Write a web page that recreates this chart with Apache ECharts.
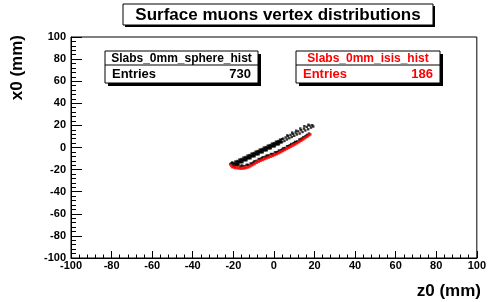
<!DOCTYPE html>
<html>
<head>
<meta charset="utf-8">
<script src="https://cdn.jsdelivr.net/npm/echarts@6/dist/echarts.min.js"></script>
<style>
  html, body { margin: 0; padding: 0; background: #fff; }
  #chart { width: 489px; height: 302px; }
</style>
</head>
<body>
<div id="chart"></div>
<script>
// z0 (mm), x0 (mm) pairs
const spherePoints = [
  // upper band, dense part
  [-20.0,-14.0],[-20.0,-16.8],[-19.5,-14.6],[-19.5,-16.9],[-19.0,-12.7],[-19.0,-15.1],[-18.5,-13.2],[-18.5,-15.1],
  [-18.0,-12.2],[-18.0,-15.0],[-17.5,-12.8],[-17.5,-15.1],[-17.0,-10.9],[-17.0,-13.3],[-16.5,-11.4],[-16.5,-13.3],
  [-16.0,-10.4],[-16.0,-13.2],[-15.5,-11.0],[-15.5,-13.3],[-15.0,-9.1],[-15.0,-11.5],[-14.5,-9.6],[-14.5,-11.5],
  [-14.0,-8.6],[-14.0,-11.4],[-13.5,-9.2],[-13.5,-11.5],[-13.0,-7.3],[-13.0,-9.7],[-12.5,-7.8],[-12.5,-9.7],
  [-12.0,-6.8],[-12.0,-9.6],[-11.5,-7.4],[-11.5,-9.7],[-11.0,-5.5],[-11.0,-7.9],[-10.5,-6.0],[-10.5,-7.9],
  [-10.0,-5.0],[-10.0,-7.8],[-9.5,-5.6],[-9.5,-7.9],[-9.0,-3.7],[-9.0,-6.1],[-8.5,-4.2],[-8.5,-6.1],
  [-8.0,-3.2],[-8.0,-6.0],[-7.5,-3.8],[-7.5,-6.1],[-7.0,-1.9],[-7.0,-4.3],[-6.5,-2.4],[-6.5,-4.3],
  [-6.0,-1.4],[-6.0,-4.2],[-5.5,-2.0],[-5.5,-4.3],[-5.0,-0.1],[-5.0,-2.5],[-4.5,-0.6],[-4.5,-2.5],
  [-4.0,0.4],[-4.0,-2.4],[-3.5,-0.2],[-3.5,-2.5],[-3.0,1.7],[-3.0,-0.7],[-2.5,1.2],[-2.5,-0.7],
  [-2.0,2.2],[-2.0,-0.6],[-1.5,1.6],[-1.5,-0.7],[-1.0,3.5],[-1.0,1.1],[-0.5,3.0],[-0.5,1.1],
  [0.0,4.0],[0.0,1.2],[0.5,3.4],[0.5,1.1],[1.0,5.3],[1.0,2.9],[1.5,4.8],[1.5,2.9],
  [2.0,5.8],[2.0,3.0],[2.5,5.2],[2.5,2.9],[3.0,7.1],[3.0,4.7],[3.5,6.6],[3.5,4.7],[4.0,7.6],[4.0,4.8],
  [-17.8,-13.3],[-16.8,-12.7],[-15.8,-11.5],[-14.8,-10.9],[-13.8,-9.8],[-12.8,-9.2],[-11.8,-7.9],[-10.8,-7.5],
  [-9.8,-6.1],[-8.8,-5.6],[-7.8,-4.3],[-6.8,-3.8],[-5.8,-2.5],[-4.8,-2.0],[-3.8,-0.7],[-2.8,-0.2],
  [-1.8,1.1],[-0.8,1.6],[0.2,2.9],[1.2,3.4],[2.2,4.7],[3.2,5.2],
  // upper band, sparse right part
  [4.6,8.0],[5.2,5.9],[5.8,9.1],[6.4,7.3],[7.0,10.2],[7.6,8.4],[8.2,11.4],[8.8,9.5],
  [9.4,12.3],[10.0,10.6],[10.7,13.5],[11.3,11.8],[12.0,14.6],[12.7,12.6],[13.4,15.7],[14.1,14.0],
  [14.8,17.1],[15.5,15.4],[16.2,18.6],[16.9,16.5],[17.6,19.8],[18.3,18.0],[18.9,20.2],[15.0,19.3],
  [17.0,20.6],[13.0,17.2],[19.4,19.0],[11.0,15.2],[6.6,11.0],[9.0,13.5],
  // lower band
  [-18.5,-16.2],[-17.5,-16.3],[-16.5,-17.4],[-15.5,-16.5],[-14.5,-16.9],[-13.5,-15.8],[-12.5,-16.0],[-11.5,-14.5],
  [-10.5,-14.2],[-9.5,-12.4],[-8.5,-12.0],[-7.5,-10.4],[-6.5,-10.3],[-5.5,-8.8],[-4.5,-8.7],[-3.5,-7.3],
  [-2.5,-7.2],[-1.5,-5.9],[-0.5,-5.8],[0.5,-4.4],[1.5,-4.3],[2.5,-2.7],[3.5,-2.4],[4.5,-0.8],
  [5.5,-0.4],[6.5,1.2],[7.5,1.6],[8.5,3.2],[9.5,3.6],[10.5,5.1],[11.5,5.6],[12.5,7.2],
  [13.5,7.8],[14.5,9.4],[15.5,10.1],[16.5,11.5],[17.3,12.6],
  [-16.0,-16.4],[-13.0,-15.6],[-10.0,-13.2],[-7.0,-10.9],[-4.0,-8.3],[-1.0,-6.2],[2.0,-3.9],[5.0,-1.1],
  [8.0,2.0],[11.0,4.8],[14.0,8.1],[-11.0,-14.8],[-6.0,-9.7],[-3.0,-7.6],[1.0,-4.6],[4.0,-1.9],
  [7.0,1.0],[10.0,4.1],[13.0,7.0],[16.0,10.7],
  // left tip
  [-21.0,-14.3],[-20.6,-13.6],[-21.4,-15.0],[-20.2,-15.2]
];

const isisPoints = [
  [-21.5,-15.3],[-21.0,-16.8],[-20.5,-17.9],[-20.0,-17.2],[-19.5,-18.5],[-19.0,-17.9],[-18.5,-18.8],[-18.0,-18.0],
  [-17.5,-19.0],[-17.0,-18.3],[-16.5,-19.3],[-16.0,-18.6],[-15.5,-19.2],[-15.0,-18.4],[-14.5,-19.0],[-14.0,-18.1],
  [-13.5,-18.5],[-13.0,-17.5],[-12.5,-18.0],[-12.0,-16.9],[-11.5,-17.0],[-11.0,-15.9],[-10.5,-16.0],[-10.0,-14.9],
  [-9.5,-15.0],[-9.0,-13.8],[-8.5,-13.9],[-8.0,-12.7],[-7.5,-13.0],[-7.0,-11.8],[-6.5,-12.1],[-6.0,-11.0],
  [-5.5,-11.4],[-5.0,-10.2],[-4.5,-10.6],[-4.0,-9.4],[-3.5,-9.8],[-3.0,-8.7],[-2.5,-9.1],[-2.0,-8.0],
  [-1.5,-8.4],[-1.0,-7.3],[-0.5,-7.7],[0.0,-6.6],[0.5,-6.9],[1.0,-5.8],[1.5,-6.1],[2.0,-4.9],
  [2.5,-5.2],[3.0,-4.0],[3.5,-4.3],[4.0,-3.0],[4.5,-3.3],[5.0,-2.0],[5.5,-2.3],[6.0,-1.0],
  [6.5,-1.3],[7.0,0.0],[7.5,-0.3],[8.0,1.0],[8.5,0.7],[9.0,2.0],[9.5,1.7],[10.0,3.0],
  [10.5,2.7],[11.0,4.0],[11.5,3.8],[12.0,5.0],[12.5,4.9],[13.0,6.1],[13.5,6.0],[14.0,7.2],
  [14.5,7.3],[15.0,8.4],[15.5,8.6],[16.0,9.6],[16.5,9.9],[17.0,10.8],[17.5,11.3],[18.0,11.9]
];

const sphereEntries = 730;
const isisEntries = 186;

const font = 'Liberation Sans, Arial, Helvetica, sans-serif';

const chart = echarts.init(document.getElementById('chart'));

function axisCommon(tickLen, minorLen, margin) {
  return {
    type: 'value',
    min: -100,
    max: 100,
    interval: 20,
    axisLine: { show: true, onZero: false, lineStyle: { color: '#000', width: 1 } },
    axisTick: { show: true, inside: true, length: tickLen, lineStyle: { color: '#000' } },
    minorTick: { show: true, splitNumber: 5, length: minorLen, lineStyle: { color: '#000' } },
    splitLine: { show: false },
    axisLabel: { color: '#000', fontFamily: font, fontWeight: 'bold', fontSize: 11, margin: margin }
  };
}

// stat box helper
function statBox(x, y, w, color, name, entries) {
  return [
    { type: 'rect', shape: { x: x + 3, y: y + 3, width: w, height: 32 }, style: { fill: '#000' } },
    { type: 'rect', shape: { x: x, y: y, width: w, height: 32 }, style: { fill: '#fff', stroke: '#000', lineWidth: 1 } },
    { type: 'line', shape: { x1: x, y1: y + 14, x2: x + w, y2: y + 14 }, style: { stroke: '#000', lineWidth: 1 } },
    { type: 'text', x: x + w / 2, y: y + 7.5, style: { text: name, fill: color, font: 'bold 12px ' + font, align: 'center', verticalAlign: 'middle' } },
    { type: 'text', x: x + 7, y: y + 23.5, style: { text: 'Entries', fill: color, font: 'bold 13px ' + font, align: 'left', verticalAlign: 'middle' } },
    { type: 'text', x: x + w - 7, y: y + 23.5, style: { text: String(entries), fill: color, font: 'bold 13px ' + font, align: 'right', verticalAlign: 'middle' } }
  ];
}

chart.setOption({
  animation: false,
  grid: { left: 71, right: 8, top: 37, bottom: 44, show: true, borderColor: '#000', borderWidth: 1 },
  xAxis: axisCommon(7, 3.5, 2),
  yAxis: axisCommon(11, 5, 5),
  series: [
    {
      name: 'Slabs_0mm_sphere_hist',
      type: 'scatter',
      data: spherePoints,
      symbol: 'rect',
      symbolSize: 2.4,
      itemStyle: { color: '#000' }
    },
    {
      name: 'Slabs_0mm_isis_hist',
      type: 'scatter',
      data: isisPoints,
      symbol: 'rect',
      symbolSize: 2.4,
      itemStyle: { color: '#ff0000' }
    }
  ],
  graphic: [
    { type: 'rect', shape: { x: 125, y: 6, width: 310, height: 21 }, style: { fill: '#000' } },
    { type: 'rect', shape: { x: 123, y: 4, width: 310, height: 21 }, style: { fill: '#fff', stroke: '#000', lineWidth: 1 } },
    { type: 'text', x: 278, y: 15, style: { text: 'Surface muons vertex distributions', fill: '#000', font: 'bold 17px ' + font, align: 'center', verticalAlign: 'middle' } },
    ...statBox(105, 51, 153, '#000', 'Slabs_0mm_sphere_hist', sphereEntries),
    ...statBox(296, 51, 144, '#ff0000', 'Slabs_0mm_isis_hist', isisEntries),
    { type: 'text', x: 481, y: 291, style: { text: 'z0 (mm)', fill: '#000', font: 'bold 17px ' + font, align: 'right', verticalAlign: 'middle' } },
    { type: 'text', x: 17, y: 35, rotation: Math.PI / 2, style: { text: 'x0 (mm)', fill: '#000', font: 'bold 17px ' + font, align: 'right', verticalAlign: 'middle' } }
  ]
});
</script>
</body>
</html>
